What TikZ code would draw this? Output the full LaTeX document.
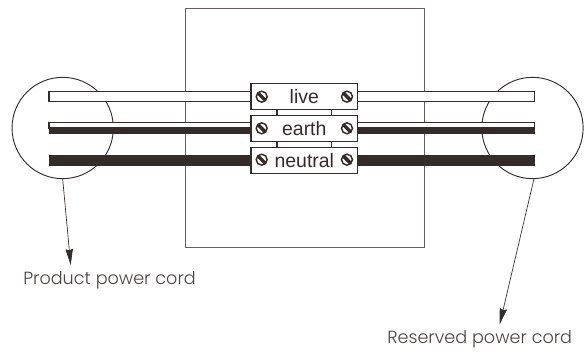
\documentclass[tikz,border=0pt]{standalone}
\usepackage{fontspec}
\setmainfont{Liberation Sans}
\newfontfamily\capfont[UprightFont=* Light]{Poppins}
\usetikzlibrary{arrows.meta}
\definecolor{ink}{HTML}{332C2B}
\definecolor{thin}{HTML}{4A4442}
\tikzset{
  wire/.style={draw=ink,line width=0.8pt,fill=white},
  termbox/.style={draw=ink,line width=0.8pt,fill=white,minimum width=80pt,minimum height=19.8pt,inner sep=0pt,font=\fontsize{14.6pt}{15pt}\selectfont,text=ink},
  lens/.style={circle,draw=ink,line width=0.7pt,minimum size=76pt,inner sep=0pt},
  caption/.style={font=\capfont\fontsize{13.2pt}{14pt}\selectfont,text=thin,inner sep=0pt,anchor=base west},
  pointer/.style={draw=ink,line width=0.5pt,-{Stealth[length=12pt,width=5.5pt,inset=1pt]}},
  screwhead/.style={circle,draw=ink,line width=1.1pt,fill=white,minimum size=8.2pt,inner sep=0pt}
}
\begin{document}
\begin{tikzpicture}[x=0.75pt,y=-0.75pt]
\useasboundingbox (0,0) rectangle (587,352);
\draw[draw=thin!85!white,line width=0.65pt] (185,8) rectangle (424,247.5);
\node[lens] (lensL) at (62.7,128) {};
\node[lens] (lensR) at (532.5,128) {};
% wires
\draw[wire] (49,91.3) rectangle (251,101.3);
\draw[wire] (357,91.3) rectangle (534.5,101.3);
\fill[ink] (49,128) rectangle (251,134);
\fill[ink] (357,128) rectangle (534.5,134);
\draw[wire] (49,122.5) rectangle (251,128);
\draw[wire] (357,122.5) rectangle (534.5,128);
\fill[ink] (49,155) rectangle (251,165.7);
\fill[ink] (357,155) rectangle (534.5,165.7);
% links
\draw[draw=ink,line width=0.8pt] (277,109) rectangle (331.7,116);
\draw[draw=ink,line width=0.8pt] (277,141) rectangle (331.7,148);
% terminals
\node[termbox] (live) at (304.3,96.5) {live\hspace{4pt}};
\node[termbox] (earth) at (304.3,128.3) {earth\hspace{4.5pt}};
\node[termbox] (neutral) at (304.3,160.3) {neutral\hspace{11pt}};
\foreach \n/\y in {liveA/96.7,earthA/128.3,neutralA/159.7}{
  \node[screwhead] (\n) at (261.7,\y) {};
  \draw[ink,line width=2.6pt] ([shift={(135:4pt)}]\n.center) -- ([shift={(-45:4pt)}]\n.center);
}
\foreach \n/\y in {liveB/96.7,earthB/128.3,neutralB/159.7}{
  \node[screwhead] (\n) at (347,\y) {};
  \draw[ink,line width=2.6pt] ([shift={(135:4pt)}]\n.center) -- ([shift={(-45:4pt)}]\n.center);
}
% captions
\node[caption] (capL) at (23,285) {Product power cord};
\node[caption] (capR) at (387,344) {Reserved power cord};
\coordinate (tipL) at (70.7,265);
\coordinate (tipR) at (499.7,324.3);
\draw[pointer] (lensL.south) -- (tipL);
\draw[pointer] (534,178.7) -- (tipR);
\end{tikzpicture}
\end{document}
